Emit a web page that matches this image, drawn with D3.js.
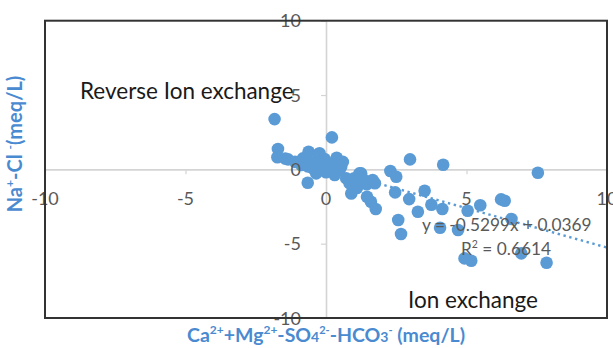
<!DOCTYPE html>
<html>
<head>
<meta charset="utf-8">
<script src="https://cdn.jsdelivr.net/npm/d3@7"></script>
<style>
  html, body { margin: 0; padding: 0; background: #ffffff; }
  svg { display: block; }
  text { font-family: Lato, "Open Sans", sans-serif; }
</style>
</head>
<body>
<svg id="chart" width="613" height="348"></svg>
<script>
// Ion-exchange diagram: (Ca+Mg-SO4-HCO3) vs (Na-Cl), both in meq/L
const xValues = [
  -1.83, -1.71, -1.73, -1.35, -1.45, 0.21, -0.65, -0.62, -0.28, -0.23,
   0.38,  2.99,  4.17,  7.54,  2.29, 2.50,  2.46,  2.96,  3.51,  3.27,
   3.75,  4.14,  5.04,  5.49,  6.23, 6.36,  6.60,  2.57,  2.67,  4.06,
   4.70,  4.93,  5.17,  6.95,  7.85, 0.90,  1.46,  1.60,  1.77,  1.25,
   1.74,  1.53, -0.82, -0.82, -0.88, -0.47, -0.17,  0.07,  0.48,  0.72,
   0.96, -0.35,  0.54,  1.19,  0.84, 0.31,  1.32,  1.10, -0.55, -0.05,
   0.15, -1.10, -0.30,  0.60,  1.66, 0.00, -0.65,  0.35,  1.00,  1.45
];
const yValues = [
   3.38,  1.37,  0.81,  0.67,  0.72,  2.15, -0.90,  1.18,  1.01,  1.08,
   0.78,  0.67,  0.31, -0.23, -0.11, -0.50, -1.55, -2.00, -1.44, -2.85,
  -2.38, -2.67, -2.79, -2.42, -2.02, -2.11, -3.34, -3.41, -4.35, -3.93,
  -4.08, -5.99, -6.15, -5.65, -6.28, -1.62, -1.84, -2.18, -2.67, -0.27,
  -0.94, -0.83,  0.74,  0.51,  0.29,  0.07,  0.17,  0.40, -0.05, -0.61,
  -1.17, -0.27,  0.17, -0.27, -0.94, -0.38, -0.66, -1.25,  0.45,  0.70,
  -0.10,  0.50,  0.40,  0.50, -0.72, -0.20,  0.20,  0.35, -0.60, -1.00
];
const xTicks = [-10, -5, 0, 5, 10];
const yTicks = [-10, -5, 0, 5, 10];
const trendSlope = -0.5299;
const trendIntercept = 0.0369;
const trendR2 = 0.6614;
const trendEnd = 10;

const points = xValues.map((x, i) => ({ x, y: yValues[i] }));

const svg = d3.select("#chart");
const plotLeft = 45, plotRight = 607, plotTop = 20.7, plotBottom = 318;

const x = d3.scaleLinear().domain([-10, 10]).range([plotLeft, plotRight]);
const y = d3.scaleLinear().domain([-10, 10]).range([plotBottom, plotTop]);

const gridColor = "#d4d4d4";
const labelColor = "#595959";
const pointColor = "#5b9bd5";
const titleColor = "#4a8ad0";

// Axes crossing at the origin
const xAxis = svg.append("g")
  .attr("transform", `translate(0,${y(0)})`)
  .call(d3.axisBottom(x).tickValues(xTicks).tickSize(5).tickSizeOuter(0));
xAxis.select(".domain").attr("stroke", gridColor).attr("stroke-width", 1.6);
xAxis.selectAll(".tick line").attr("stroke", gridColor).attr("stroke-width", 1.2);

const yAxis = svg.append("g")
  .attr("transform", `translate(${x(0)},0)`)
  .call(d3.axisLeft(y).tickValues(yTicks).tickSize(5).tickSizeOuter(0));
yAxis.select(".domain").attr("stroke", gridColor).attr("stroke-width", 1.6);
yAxis.selectAll(".tick line").attr("stroke", gridColor).attr("stroke-width", 1.2);

// Tick labels are drawn later so they sit above the markers
xAxis.selectAll(".tick text").remove();
yAxis.selectAll(".tick text").remove();

// Scatter markers
svg.append("g")
  .selectAll("circle")
  .data(points)
  .join("circle")
  .attr("cx", d => x(d.x))
  .attr("cy", d => y(d.y))
  .attr("r", 6.3)
  .attr("fill", pointColor);

// Linear trendline (dotted)
const xMin = d3.min(xValues);
svg.append("line")
  .attr("x1", x(xMin))
  .attr("y1", y(trendSlope * xMin + trendIntercept))
  .attr("x2", x(trendEnd))
  .attr("y2", y(trendSlope * trendEnd + trendIntercept))
  .attr("stroke", pointColor)
  .attr("stroke-width", 2.4)
  .attr("stroke-dasharray", "2.4 3.6");

// Tick labels
const tickFont = 18;
svg.append("g").selectAll("text")
  .data(xTicks)
  .join("text")
  .attr("x", d => x(d))
  .attr("y", 205)
  .attr("text-anchor", "middle")
  .attr("font-size", tickFont)
  .attr("fill", labelColor)
  .text(d => d);

svg.append("g").selectAll("text")
  .data(yTicks)
  .join("text")
  .attr("x", x(0) - 25)
  .attr("y", d => y(d) + 6.5)
  .attr("text-anchor", "end")
  .attr("font-size", tickFont)
  .attr("fill", labelColor)
  .text(d => d);

// Region annotations
svg.append("text")
  .attr("x", 80).attr("y", 99)
  .attr("font-size", 22.5)
  .attr("fill", "#1a1a1a")
  .text("Reverse Ion exchange");

svg.append("text")
  .attr("x", 408).attr("y", 308)
  .attr("font-size", 22.5)
  .attr("fill", "#1a1a1a")
  .text("Ion exchange");

// Trendline equation
const fmtSigned = v => (v < 0 ? "- " : "+ ") + Math.abs(v).toFixed(4);
svg.append("text")
  .attr("x", 422).attr("y", 231)
  .attr("font-size", 17.3)
  .attr("fill", labelColor)
  .text(`y = ${trendSlope.toFixed(4)}x ${fmtSigned(trendIntercept)}`);

const r2 = svg.append("text")
  .attr("x", 461).attr("y", 255)
  .attr("font-size", 17.3)
  .attr("fill", labelColor);
r2.append("tspan").text("R");
r2.append("tspan").attr("font-size", 10.5).attr("dy", -7.5).text("2");
r2.append("tspan").attr("dy", 7.5).text(` = ${trendR2.toFixed(4)}`);

// Axis titles
const xt = svg.append("text")
  .attr("x", (plotLeft + plotRight) / 2).attr("y", 342)
  .attr("text-anchor", "middle")
  .attr("font-size", 19.5)
  .attr("font-weight", "bold")
  .attr("fill", titleColor);
xt.append("tspan").text("Ca");
xt.append("tspan").attr("font-size", 12).attr("dy", -8).text("2+");
xt.append("tspan").attr("dy", 8).text("+Mg");
xt.append("tspan").attr("font-size", 12).attr("dy", -8).text("2+");
xt.append("tspan").attr("dy", 8).text("-SO");
xt.append("tspan").attr("font-size", 14).text("4");
xt.append("tspan").attr("font-size", 11).attr("dy", -8).text("2-");
xt.append("tspan").attr("dy", 8).text("-HCO");
xt.append("tspan").attr("font-size", 14).text("3");
xt.append("tspan").attr("font-size", 11).attr("dy", -8).text("-");
xt.append("tspan").attr("dy", 8).text(" (meq/L)");

const yt = svg.append("text")
  .attr("transform", "translate(22,144) rotate(-90)")
  .attr("text-anchor", "middle")
  .attr("font-size", 20)
  .attr("font-weight", "bold")
  .attr("fill", titleColor);
yt.append("tspan").text("Na");
yt.append("tspan").attr("font-size", 12).attr("dy", -8).text("+");
yt.append("tspan").attr("dy", 8).text("-Cl ");
yt.append("tspan").attr("font-size", 12).attr("dy", -8).text("-");
yt.append("tspan").attr("dy", 8).text("(meq/L)");

// Plot frame
svg.append("rect")
  .attr("x", plotLeft).attr("y", plotTop)
  .attr("width", plotRight - plotLeft).attr("height", plotBottom - plotTop)
  .attr("fill", "none")
  .attr("stroke", "#333333")
  .attr("stroke-width", 2);
</script>
</body>
</html>
